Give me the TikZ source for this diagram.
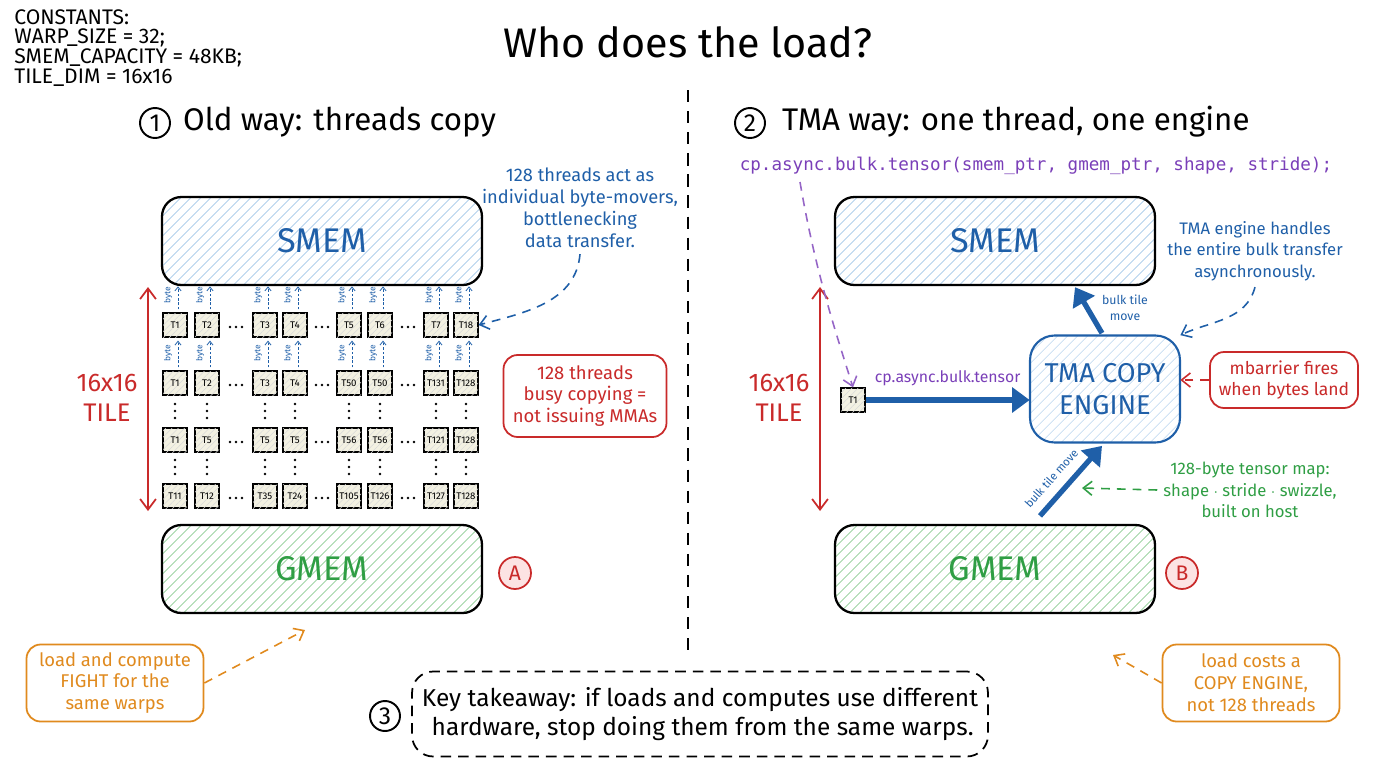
\documentclass[tikz,border=0pt]{standalone}
\usepackage{fontspec}
\setmainfont{Fira Sans}
\setmonofont{DejaVu Sans Mono}
\usepackage{tikz}
\usetikzlibrary{arrows.meta,positioning,calc,patterns.meta}
\definecolor{inkblue}{HTML}{1F5FA8}
\definecolor{hatchblue}{HTML}{A9CBEA}
\definecolor{inkred}{HTML}{C92A2A}
\definecolor{softred}{HTML}{FCE3E3}
\definecolor{inkgreen}{HTML}{2F9E44}
\definecolor{hatchgreen}{HTML}{93D09A}
\definecolor{inkorange}{HTML}{E08A1E}
\definecolor{inkpurple}{HTML}{7A3FB8}
\definecolor{tilefill}{HTML}{F3F1E2}
\tikzset{
  % Memory blocks
  mem/.style={draw=black,line width=1.3pt,rounded corners=11pt,minimum width=6.4cm,
              minimum height=1.76cm,font=\fontsize{19.5}{22}\selectfont},
  smem/.style={mem,pattern={Lines[angle=45,distance=4pt,line width=0.5pt]},
               pattern color=hatchblue,text=inkblue},
  gmem/.style={mem,pattern={Lines[angle=45,distance=4pt,line width=0.5pt]},
               pattern color=hatchgreen,text=inkgreen},
  engine/.style={draw=inkblue,line width=1.2pt,rounded corners=14pt,minimum width=3cm,
                 minimum height=2.14cm,align=center,text=inkblue,
                 font=\fontsize{15.5}{18}\selectfont,
                 pattern={Lines[angle=45,distance=4pt,line width=0.4pt]},pattern color=hatchblue!80},
  % Thread tiles
  tbox/.style={draw=black,line width=0.7pt,fill=tilefill,minimum size=0.48cm,inner sep=0pt,
               font=\fontsize{5.5}{6}\selectfont,
               postaction={pattern={Lines[angle=45,distance=2.5pt,line width=0.3pt]},
                           pattern color=black!15}},
  dotr/.style={radius=1.4},
  bytelbl/.style={rotate=90,text=inkblue,font=\fontsize{4.8}{5}\selectfont,inner sep=0pt},
  bytearr/.style={inkblue,line width=0.45pt,dash pattern=on 1.5pt off 1pt,
                  -{Straight Barb[length=2.2pt,width=3.5pt]}},
  % Text
  titletxt/.style={font=\fontsize{23.5}{28}\selectfont},
  headtxt/.style={font=\fontsize{17.8}{21}\selectfont,anchor=west},
  consttxt/.style={align=left,font=\fontsize{12}{11.3}\selectfont,inner sep=0pt},
  numcirc/.style={draw=black,circle,line width=1.1pt,minimum size=0.6cm,inner sep=0pt,
                  font=\fontsize{14}{16}\selectfont},
  markc/.style={draw=inkred,circle,line width=1pt,fill=softred,minimum size=0.64cm,
                inner sep=0pt,text=inkred,font=\fontsize{12}{14}\selectfont},
  tiletxt/.style={text=inkred,align=center,font=\fontsize{14.5}{17}\selectfont},
  anno/.style={align=center,font=\fontsize{10.4}{12.5}\selectfont},
  note/.style={draw,rounded corners=8pt,line width=1pt,align=center,fill=white,
               font=\fontsize{10.5}{12.5}\selectfont},
  % Connectors
  tilearr/.style={inkred,line width=1pt,{Straight Barb[length=6pt,width=9pt]}-{Straight Barb[length=6pt,width=9pt]}},
  noteln/.style={line width=0.9pt,dash pattern=on 5pt off 4pt,-{Straight Barb[length=5pt,width=8pt]}},
  fat/.style={inkblue,line width=3pt,-{Triangle[length=10pt,width=14pt]}},
  divider/.style={line width=1.2pt,dash pattern=on 7pt off 5pt}
}
\begin{document}
\begin{tikzpicture}[x=0.02cm,y=-0.02cm]
  \useasboundingbox (0,0) rectangle (1376,768);

  % Title and constants
  \node[titletxt] (title) at (688,42) {Who does the load?};
  \node[consttxt,anchor=north west] (consts) at (14,9)
    {CONSTANTS:\\WARP\_SIZE = 32;\\SMEM\_CAPACITY = 48KB;\\TILE\_DIM = 16x16};

  % Divider
  \coordinate (divtop) at (688,90);
  \coordinate (divbot) at (688,652);
  \draw[divider] (divtop) -- (divbot);

  % Section headings
  \node[numcirc] (n1) at (155,123) {1};
  \node[headtxt] (h1) at (177,122) {Old way: threads copy};
  \node[numcirc] (n2) at (750,123) {2};
  \node[headtxt] (h2) at (776,122) {TMA way: one thread, one engine};

  % ---------------- Left: old way ----------------
  \node[smem] (smemL) at (322,241) {SMEM};
  \node[gmem] (gmemL) at (322,569) {GMEM};
  \node[markc] (markA) at (515,573) {A};

  % Thread tile rows
  \foreach \x/\lbl [count=\i] in {175/T1,207/T2,265/T3,295/T4,349/T5,380/T6,436/T7,466/T18}
    \node[tbox] (r1c\i) at (\x,325) {\lbl};
  \foreach \x/\lbl [count=\i] in {175/T1,207/T2,265/T3,295/T4,349/T50,380/T50,436/T131,466/T128}
    \node[tbox] (r2c\i) at (\x,383) {\lbl};
  \foreach \x/\lbl [count=\i] in {175/T1,207/T5,265/T5,295/T5,349/T56,380/T56,436/T121,466/T128}
    \node[tbox] (r3c\i) at (\x,440) {\lbl};
  \foreach \x/\lbl [count=\i] in {175/T11,207/T12,265/T35,295/T24,349/T105,380/T126,436/T127,466/T128}
    \node[tbox] (r4c\i) at (\x,496) {\lbl};

  % Gaps between tiles
  \foreach \x in {236,322,408}
    \foreach \y in {325,383,440,496}
      \fill[dotr] (\x-6,\y+2) circle[] (\x,\y+2) circle[] (\x+6,\y+2) circle[];
  \foreach \x in {175,207,265,295,349,380,436,466}
    \foreach \y in {411,467}
      \fill[dotr] (\x,\y-7) circle[] (\x,\y) circle[] (\x,\y+7) circle[];

  % Byte moves up to SMEM
  \foreach \i in {1,...,8} {
    \node[bytelbl] (bl1\i) at ($(r1c\i.north)+(-7,-17)$) {byte};
    \draw[bytearr] ($(r1c\i.north)+(3,-3)$) -- ($(r1c\i.north)+(3,-26)$);
    \node[bytelbl] (bl2\i) at ($(r2c\i.north)+(-7,-17)$) {byte};
    \draw[bytearr] ($(r2c\i.north)+(3,-3)$) -- ($(r1c\i.south)+(3,3)$);
  }

  % Tile height
  \coordinate (tiltopL) at (148,287);
  \coordinate (tilbotL) at (148,511);
  \draw[tilearr] (tiltopL) -- (tilbotL);
  \node[tiletxt] (tileL) at (107,398) {16x16\\TILE};

  % Annotations
  \node[anno,text=inkblue] (bnoteL) at (580,208)
    {128 threads act as\\individual byte-movers,\\bottlenecking\\data transfer.};
  \draw[noteln,inkblue] (bnoteL.south) to[out=-95,in=15] (r1c8.east);
  \node[note,draw=inkred,text=inkred,minimum width=3.26cm,minimum height=1.64cm] (busy) at (585,396)
    {128 threads\\busy copying =\\not issuing MMAs};
  \node[note,draw=inkorange,text=inkorange,minimum width=3.54cm,minimum height=1.54cm] (fight) at (115,683)
    {load and compute\\FIGHT for the\\same warps};
  \coordinate (gmemLtip) at (305,630);
  \draw[noteln,inkorange] (fight.east) -- (gmemLtip);

  % ---------------- Right: TMA way ----------------
  \node[font=\ttfamily\fontsize{10}{12}\selectfont,text=inkpurple] (code) at (1036,166)
    {cp.async.bulk.tensor(smem\_ptr, gmem\_ptr, shape, stride);};
  \node[smem] (smemR) at (995,241) {SMEM};
  \node[gmem] (gmemR) at (995,569) {GMEM};
  \node[markc] (markB) at (1182,573) {B};

  \coordinate (tiltopR) at (820,287);
  \coordinate (tilbotR) at (820,511);
  \draw[tilearr] (tiltopR) -- (tilbotR);
  \node[tiletxt] (tileR) at (779,398) {16x16\\TILE};

  \node[tbox] (t1) at (853,400) {T1};
  \node[engine] (tma) at (1105,389) {TMA COPY\\ENGINE};

  \coordinate (codefoot) at (800,182);
  \draw[noteln,inkpurple!80] (codefoot) .. controls (815,270) and (835,330) .. (t1.north);

  \draw[fat] (t1.east) -- node[above=3pt,text=inkpurple,font=\fontsize{9}{11}\selectfont] {cp.async.bulk.tensor} (tma.west |- t1.east);
  \draw[fat] ($(tma.north)+(-3,-2)$) -- ($(smemR.south)+(80,1)$);
  \node[text=inkblue,align=center,font=\fontsize{7}{9}\selectfont] (bulkup) at (1125,308) {bulk tile\\move};
  \draw[fat] ($(gmemR.north)+(45,-8)$) -- node[pos=0.38,above=2pt,sloped,text=inkblue,font=\fontsize{6.5}{8}\selectfont] {bulk tile move} ($(tma.south)+(-3,3)$);

  % Annotations
  \node[anno,text=inkblue,font=\fontsize{9.5}{12.3}\selectfont] (bnoteR) at (1255,251)
    {TMA engine handles\\the entire bulk transfer\\asynchronously.};
  \draw[noteln,inkblue] (bnoteR.south) to[out=-105,in=25] (tma.north east);
  \node[note,draw=inkred,text=inkred,font=\fontsize{10}{12.3}\selectfont,minimum width=2.96cm,minimum height=1.12cm] (mbar) at (1284,380)
    {mbarrier fires\\when bytes land};
  \draw[noteln,inkred] (mbar.west) -- (tma.east |- mbar.west);
  \node[anno,text=inkgreen,font=\fontsize{9.5}{12.3}\selectfont] (tmap) at (1250,490)
    {128-byte tensor map:\\shape $\cdot$ stride $\cdot$ swizzle,\\built on host};
  \coordinate (tmaptip) at (1082,488);
  \draw[noteln,inkgreen] (tmap.west) -- (tmaptip);
  \node[note,draw=inkorange,text=inkorange,minimum width=3.54cm,minimum height=1.54cm] (costs) at (1251,683)
    {load costs a\\COPY ENGINE,\\not 128 threads};
  \coordinate (gmemRtip) at (1113,655);
  \draw[noteln,inkorange] (costs.west) -- (gmemRtip);

  % ---------------- Key takeaway ----------------
  \node[numcirc] (n3) at (385,716) {3};
  \node[draw,rounded corners=12pt,line width=1pt,dash pattern=on 6pt off 4pt,align=left,
        minimum width=11.52cm,minimum height=1.7cm,font=\fontsize{13.9}{17}\selectfont] (take) at (700,714)
    {Key takeaway: if loads and computes use different\\\hspace*{0.4em}hardware, stop doing them from the same warps.};
\end{tikzpicture}
\end{document}
